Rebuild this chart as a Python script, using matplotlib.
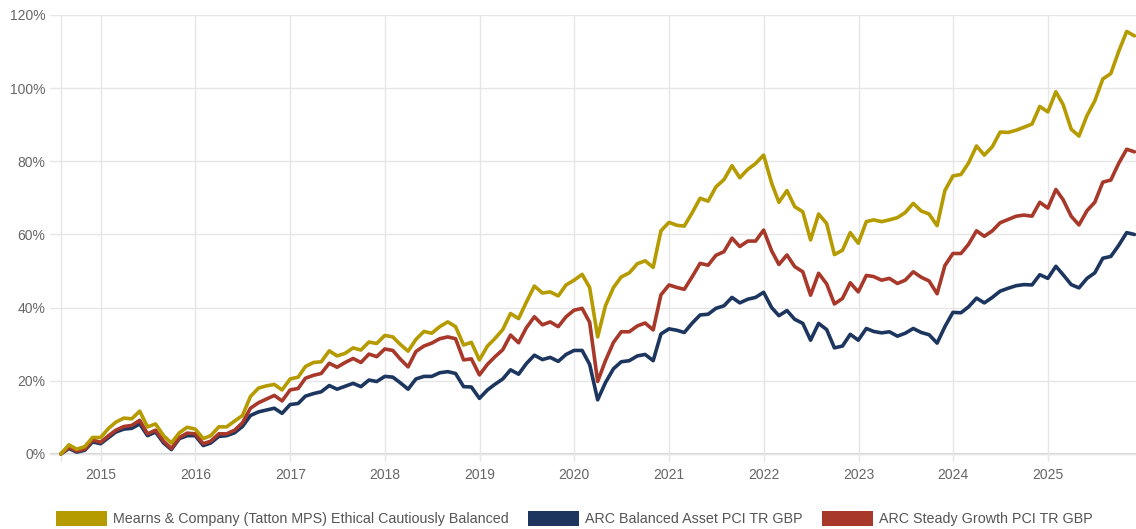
import matplotlib
matplotlib.use("Agg")
import matplotlib.pyplot as plt
import matplotlib.dates as mdates
from matplotlib.patches import Patch
from matplotlib.ticker import FuncFormatter
import pandas as pd

# month-end values, cumulative % growth from 31 Jul 2014
start = "2014-07-31"

mearns = [0, 2.5, 1.3, 2, 4.5, 4.5, 7, 8.7, 9.8, 9.6, 11.7, 7.4, 8.2, 5, 3, 5.8, 7.3, 6.8, 4.2, 5,
          7.4, 7.4, 9, 10.5, 15.7, 18, 18.6, 19, 17.5, 20.5, 21, 23.9, 25, 25.2, 28.2, 26.8, 27.5, 29, 28.4, 30.6,
          30.2, 32.4, 32, 30, 28.1, 31.3, 33.5, 33, 34.8, 36.1, 34.8, 29.8, 30.5, 25.7, 29.5, 31.5, 34, 38.4, 37, 41.5,
          45.9, 44, 44.3, 43.2, 46.2, 47.5, 49.1, 45.5, 32, 40.5, 45.5, 48.4, 49.5, 52, 52.8, 51, 61, 63.3, 62.5, 62.3,
          66, 69.9, 69.1, 73, 75, 78.8, 75.5, 77.8, 79.4, 81.7, 74, 68.8, 72, 67.6, 66.2, 58.5, 65.6, 63, 54.5, 55.7,
          60.5, 57.6, 63.5, 64, 63.5, 64, 64.6, 66, 68.5, 66.4, 65.6, 62.4, 72, 76, 76.4, 79.5, 84.2, 81.7, 84, 88,
          87.9, 88.5, 89.3, 90.2, 95, 93.5, 99, 95.5, 88.8, 86.9, 92.5, 96.5, 102.5, 104, 110, 115.5, 114.3]

balanced = [0, 1.5, 0.5, 1, 3.3, 2.8, 4.5, 6, 6.8, 7, 8.2, 5, 6, 3, 1.2, 4.2, 5, 5, 2.3, 3,
            4.8, 5, 5.8, 7.5, 10.5, 11.5, 12, 12.5, 11.1, 13.5, 13.8, 15.8, 16.5, 17, 18.7, 17.7, 18.5, 19.3, 18.4, 20.2,
            19.8, 21.2, 21, 19.5, 17.7, 20.5, 21.2, 21.2, 22.2, 22.5, 22, 18.4, 18.3, 15.2, 17.5, 19, 20.5, 23, 21.8, 24.7,
            27, 25.8, 26.4, 25.3, 27.2, 28.3, 28.3, 24.5, 14.8, 19.5, 23.3, 25.2, 25.5, 26.8, 27.2, 25.5, 32.8, 34.2, 33.8, 33.2,
            35.8, 38, 38.2, 39.8, 40.5, 42.8, 41.3, 42.3, 42.8, 44.2, 40, 37.8, 39.2, 36.8, 35.7, 31.1, 35.7, 34, 29, 29.5,
            32.7, 31.1, 34.3, 33.5, 33.1, 33.4, 32.2, 33, 34.3, 33.2, 32.6, 30.3, 34.8, 38.7, 38.6, 40.2, 42.6, 41.3, 42.8, 44.5,
            45.3, 46, 46.3, 46.2, 49, 48, 51.3, 49, 46.3, 45.4, 48, 49.5, 53.5, 54, 57, 60.5, 60]

steady = [0, 1.8, 0.8, 1.3, 3.8, 3.2, 5, 6.5, 7.5, 7.8, 9.2, 5.5, 6.5, 3.5, 1.5, 4.5, 5.7, 5.5, 2.8, 3.5,
          5.5, 5.5, 6.5, 8.5, 12.5, 14, 15, 16, 14.5, 17.5, 17.9, 20.7, 21.5, 22, 24.8, 23.7, 25, 26.1, 25, 27.3,
          26.6, 28.7, 28.3, 26, 23.8, 28, 29.5, 30.3, 31.5, 32, 31.5, 25.7, 26, 21.6, 24.5, 26.5, 28.5, 32.5, 30.4, 34.5,
          37.5, 35.3, 36.1, 34.8, 37.5, 39.3, 39.8, 36, 19.8, 25.5, 30.5, 33.4, 33.4, 35, 35.8, 33.9, 43.5, 46.2, 45.5, 45,
          48.5, 52.1, 51.6, 54.3, 55.3, 59, 56.7, 58.2, 58.2, 61.2, 55.5, 51.8, 54.4, 51.2, 49.8, 43.4, 49.4, 46.5, 41, 42.5,
          46.8, 44.3, 48.8, 48.5, 47.5, 48, 46.6, 47.5, 49.8, 48.3, 47.3, 43.8, 51.5, 54.8, 54.8, 57.3, 61, 59.5, 61, 63.2,
          64.1, 65, 65.3, 65, 68.8, 67.2, 72.3, 69.5, 65, 62.6, 66.5, 68.8, 74.3, 74.9, 79.4, 83.3, 82.6]

names = ["Mearns & Company (Tatton MPS) Ethical Cautiously Balanced",
         "ARC Balanced Asset PCI TR GBP",
         "ARC Steady Growth PCI TR GBP"]
colors = ["#b59a00", "#1c365f", "#a8382a"]

dates = pd.date_range(start, periods=len(mearns), freq="ME")

plt.rcParams['font.family'] = ['Liberation Sans', 'DejaVu Sans']

fig = plt.figure(figsize=(11.36, 5.29), dpi=100)
ax = fig.add_axes([50 / 1136, 1 - 462 / 529, 1 - 50 / 1136, (462 - 15) / 529])

# balanced drawn under the others, gold on top
for series, c, z in [(balanced, colors[1], 3), (steady, colors[2], 4), (mearns, colors[0], 5)]:
    ax.plot(dates, series, color=c, lw=2.6, zorder=z, solid_joinstyle="round", solid_capstyle="round")

ax.set_ylim(-2.2, 120)
ax.set_xlim(pd.Timestamp("2014-06-19"), pd.Timestamp("2025-12-06"))
ax.set_yticks(range(0, 121, 20))
ax.yaxis.set_major_formatter(FuncFormatter(lambda v, p: f"{v:.0f}%"))
ax.xaxis.set_major_locator(mdates.YearLocator())
ax.xaxis.set_major_formatter(mdates.DateFormatter("%Y"))

ax.grid(True, color="#e6e6e6", lw=1, zorder=0)
ax.axhline(0, color="#d6d6d6", lw=1.6, zorder=1)
ax.axvline(dates[0], color="#e6e6e6", lw=1, zorder=0)
for s in ax.spines.values():
    s.set_visible(False)
ax.tick_params(length=0, labelsize=10, colors="#666666")
ax.tick_params(axis="x", pad=4)
ax.tick_params(axis="y", pad=3.5)

handles = [Patch(facecolor=c, edgecolor="none") for c in colors]
fig.legend(handles, names, loc="lower left", bbox_to_anchor=(56 / 1136, 3 / 529), ncol=3, frameon=False,
           borderpad=0, borderaxespad=0, handlelength=3.55, handleheight=1.2, handletextpad=0.4,
           columnspacing=1.4, prop={"size": 10.3}, labelcolor="#555555")

fig.savefig("out.png", dpi=100)
